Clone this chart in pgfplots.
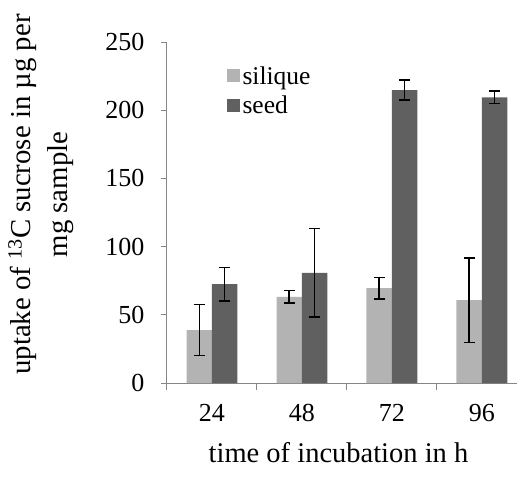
\documentclass[border=0pt]{standalone}
\usepackage{pgfplots}
\pgfplotsset{compat=1.18}
\usepackage{fontspec}
\setmainfont{Liberation Serif}
\definecolor{silc}{HTML}{B3B3B3}
\definecolor{seedc}{HTML}{606060}
\definecolor{axc}{HTML}{868686}
\begin{document}
\begin{tikzpicture}
\path[use as bounding box] (-167pt,-97pt) rectangle (351pt,383pt);
\begin{axis}[
  at={(0,0)}, anchor=south west,
  scale only axis, width=350pt, height=341pt,
  xmin=-0.5, xmax=3.39, ymin=0, ymax=250,
  axis x line=bottom, axis y line=left,
  axis line style={axc, line width=1pt, -},
  xtick={0,1,2,3}, xticklabels={24,48,72,96},
  minor xtick={-0.5,0.5,1.5,2.5},
  major x tick style={draw=none},
  minor x tick style={axc, line width=1pt},
  minor tick length=7pt,
  ytick={0,50,100,150,200,250},
  y tick style={axc, line width=1pt},
  major tick length=6pt,
  tick align=outside,
  /pgf/number format/assume math mode=true,
  tick label style={font=\fontsize{26}{30}\selectfont},
  yticklabel style={xshift=-13pt},
  xticklabel style={yshift=-12pt},
  xlabel={time of incubation in h},
  xlabel style={font=\fontsize{28.5}{34}\selectfont, at={(rel axis cs:0.49,0)}, anchor=base, yshift=-79pt},
  ylabel={uptake of \textsuperscript{13}C sucrose in µg per\\mg sample},
  ylabel style={font=\fontsize{28.8}{37}\selectfont, align=center, at={(rel axis cs:-0.36,0.553)}, anchor=center},
  ybar, bar width=0.283,
  legend style={draw=none, fill=none, at={(rel axis cs:0.171,0.935)}, anchor=north west,
    font=\fontsize{25.5}{29}\selectfont, row sep=5pt, inner sep=0pt, nodes={inner sep=2.5pt}},
  legend cell align=left,
  legend image code/.code={\fill[#1] (0pt,-6pt) rectangle (13pt,7pt);},
  error bars/error bar style={black, line width=1.5pt},
  error bars/error mark options={rotate=90, mark size=5.5pt, line width=1.5pt, black},
]
\addplot[fill=silc, draw=none, bar shift=-0.1415,
  error bars/.cd, y dir=both, y explicit]
  coordinates {(0,38.7) +- (0,18.7) (1,63.2) +- (0,4.7) (2,69.5) +- (0,8) (3,60.7) +- (0,31)};
\addlegendentry{silique}
\addplot[fill=seedc, draw=none, bar shift=0.1415,
  error bars/.cd, y dir=both, y explicit]
  coordinates {(0,72.5) +- (0,12.2) (1,80.8) +- (0,32.3) (2,214.7) +- (0,7.3) (3,209.4) +- (0,4.6)};
\addlegendentry{seed}
\end{axis}
\end{tikzpicture}
\end{document}
